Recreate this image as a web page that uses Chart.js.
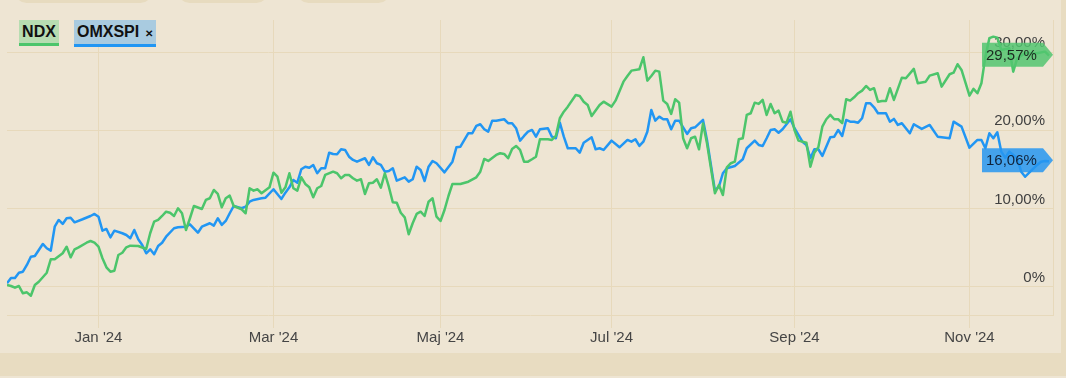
<!DOCTYPE html>
<html>
<head>
<meta charset="utf-8">
<script src="https://cdn.jsdelivr.net/npm/chart.js@4.4.1/dist/chart.umd.min.js"></script>
<style>
  html, body { margin: 0; padding: 0; }
  body { width: 1066px; height: 378px; background: #e8dcc1; position: relative; overflow: hidden;
         font-family: "Liberation Sans", Arial, sans-serif; }
  #panel { position: absolute; left: 0; top: 0; width: 1061px; height: 353px; background: #eee5d3; overflow: hidden; }
  #strip { position: absolute; left: 0; top: 376px; width: 1066px; height: 2px; background: #eee5d3; }
  #wrap { position: absolute; left: 0; top: 0; width: 1061px; height: 353px; }
  .pill { position: absolute; top: -20px; height: 23px; border-radius: 12px; background: #e7dbbf; }
  .tag { position: absolute; top: 20px; height: 23px; line-height: 24px; font-weight: bold; font-size: 16px; color: #111; z-index: 2; }
  #tagNdx { left: 19px; width: 40px; text-align: center; background: #b7ddb1; border-bottom: 3px solid #4cc56b; }
  #tagOmx { left: 74px; width: 79px; padding-left: 3px; height: 24px; background: #a9cbe0; border-bottom: 3px solid #2196f3; }
  #tagOmx span { font-size: 10px; margin-left: 6px; }
</style>
</head>
<body>
<div id="panel">
  <div class="pill" style="left:15px;width:137px"></div>
  <div class="pill" style="left:178px;width:90px"></div>
  <div class="pill" style="left:297px;width:93px"></div>
  <div id="wrap"><canvas id="chart"></canvas></div>
  <div class="tag" id="tagNdx">NDX</div>
  <div class="tag" id="tagOmx">OMXSPI<span>✕</span></div>
</div>
<div id="strip"></div>
<script>
// trading-day index since start (late Nov 2023), change in %
const monthTickDays = [23, 67, 109, 152, 198, 242];
const monthLabels = ["Jan '24", "Mar '24", "Maj '24", "Jul '24", "Sep '24", "Nov '24"];
const yTicks = [0, 10, 20, 30];

const ndxDays = [0,1,2,3,4,5,6,7,8,10,11,12,14,15,16,17,18,20,21,22,23,24,25,26,27,28,29,30,31,33,35,36,37,38,39,40,41,42,43,44,45,46,47,49,50,51,52,53,54,55,56,57,59,60,61,62,63,64,66,67,68,69,70,71,72,73,74,75,76,77,78,79,80,82,83,84,85,86,87,88,89,90,91,92,93,94,95,96,97,98,99,100,101,102,103,104,105,106,107,108,109,110,111,112,114,116,118,119,120,121,123,124,125,126,127,128,129,130,131,132,133,134,136,137,138,139,140,141,143,144,145,146,147,149,150,152,153,155,156,157,159,160,161,162,163,164,165,166,167,168,169,170,171,172,173,174,175,176,178,179,180,181,182,183,184,185,186,187,188,189,190,191,192,193,194,195,196,197,198,199,201,202,203,204,205,206,207,208,209,210,211,212,213,214,215,216,217,218,219,220,221,222,223,225,226,228,229,231,232,234,235,237,238,239,240,242,243,244,245,246,247,248,249,250,252,253,254,256,259,261,262];
const ndxValues = [0.22,0.09,-0.13,0.09,-0.84,-0.72,-1.15,0.22,0.64,1.79,3.51,3.51,4.28,5.12,3.76,4.79,5.04,5.63,5.85,5.63,5.12,3.64,2.48,1.92,2.05,4.06,4.35,5.04,5.25,5.21,4.83,6.84,8.32,8.54,9.05,9.6,9.47,9.05,10.04,9.4,7.26,8.76,10.33,9.95,11.1,11.32,12.38,11.87,10.16,11.32,11.65,10.33,9.91,9.4,12.6,12.29,12.47,11.96,12.72,14.59,14.08,12.03,12.72,14.52,12.6,12.29,14.0,13.15,12.72,11.44,12.6,12.89,14.3,14.72,14.52,13.88,14.3,14.3,13.88,13.57,13.75,11.87,13.24,13.31,13.75,12.67,14.52,12.8,10.8,10.75,9.47,8.88,6.71,8.12,9.31,9.6,9.05,10.88,11.32,8.96,8.41,9.82,11.61,13.15,13.15,13.44,14.0,14.72,16.35,16.09,16.86,17.08,16.99,16.44,17.63,18.01,17.5,16.0,16.0,16.31,16.64,18.87,18.87,18.78,19.29,21.56,22.4,23.04,24.54,24.41,23.68,23.26,21.85,23.26,23.68,23.04,23.81,26.24,26.97,27.65,27.83,29.36,26.37,26.97,27.65,27.52,23.81,23.39,22.11,23.99,23.55,19.0,17.72,19.0,19.2,17.59,20.9,18.36,11.96,13.02,11.74,15.28,15.8,16.0,18.87,19.0,21.98,22.2,23.55,23.39,23.9,21.98,23.39,22.2,22.53,21.12,20.99,22.4,20.06,18.69,18.43,15.36,17.15,17.84,20.48,21.43,21.98,21.43,21.43,20.92,23.99,23.81,24.24,24.76,25.09,25.69,25.18,25.4,23.68,23.77,23.77,25.4,23.9,26.75,26.68,27.87,26.04,26.24,27.01,27.32,25.6,27.19,27.39,28.47,27.74,24.45,25.31,24.76,26.04,29.44,31.8,32.0,31.87,30.3,30.51,27.52,29.23,29.87,29.87,30.08,29.57];

const omxDays = [0,1,2,3,4,5,6,7,8,9,10,11,12,13,14,15,16,17,19,21,22,23,24,25,26,27,29,30,31,32,33,34,35,36,37,38,39,40,42,43,45,46,48,49,51,52,53,54,55,56,57,59,60,61,62,64,65,67,69,70,71,72,73,74,75,76,77,78,79,80,81,82,83,84,85,86,87,88,90,91,92,93,94,95,96,97,98,100,101,102,103,104,105,106,107,108,110,112,113,114,116,117,118,119,120,121,122,123,125,126,127,128,129,130,131,132,133,134,136,137,138,139,140,141,143,144,145,146,147,148,149,150,152,154,156,157,158,159,160,161,162,163,164,165,166,167,168,169,170,171,172,173,175,176,178,179,180,181,183,185,186,188,189,190,191,192,193,194,195,197,198,200,201,202,203,204,205,207,208,209,210,211,212,213,214,215,216,217,218,219,221,222,223,224,225,227,228,230,232,234,236,237,238,240,242,244,245,246,247,248,249,250,251,252,254,255,256,259,260,261,262];
const omxValues = [0.44,1.11,1.11,1.79,1.92,2.78,3.84,3.93,4.7,5.47,4.92,4.61,7.68,8.54,8.03,8.76,8.83,8.24,8.63,9.05,9.31,8.96,7.17,7.39,6.32,7.17,6.84,6.62,6.2,7.26,6.07,5.34,4.28,4.79,4.15,5.21,5.63,6.4,7.48,7.6,7.68,7.99,6.91,7.68,8.12,7.81,8.76,7.9,8.41,9.4,10.33,10.04,10.24,10.88,11.1,11.32,11.39,12.47,11.23,12.03,12.72,13.66,13.31,15.03,15.36,15.23,15.58,14.52,15.16,15.16,17.15,16.99,16.95,17.59,17.5,16.64,16.22,16.0,16.44,15.58,16.56,15.8,15.58,14.72,14.81,15.16,13.57,14.0,13.44,13.75,15.36,14.94,13.53,15.36,16.09,15.8,14.64,16.0,17.84,17.92,19.64,19.64,20.57,20.79,20.15,19.84,21.25,21.25,21.43,20.92,20.92,20.28,18.69,19.29,19.84,20.06,19.2,20.15,20.28,19.2,19.0,20.99,19.2,17.72,17.72,17.15,18.43,18.78,19.12,17.59,17.72,17.5,18.69,17.84,18.78,18.56,18.87,18.01,18.56,19.84,22.62,21.25,21.76,21.43,21.43,20.15,21.25,21.25,20.4,19.55,20.28,20.4,21.34,18.78,12.29,12.8,14.52,15.16,15.45,16.31,17.72,18.69,18.14,18.01,19.0,20.06,20.15,19.71,20.15,21.43,20.28,18.56,18.14,16.44,17.59,17.59,16.73,19.12,19.2,20.06,19.29,21.34,21.12,21.12,20.99,21.56,23.48,23.48,22.96,22.2,22.2,21.12,21.47,20.7,20.92,19.64,20.79,20.19,20.7,19.2,19.07,19.0,21.12,20.48,17.79,18.78,18.78,17.72,19.64,19.0,19.76,17.28,16.51,17.28,16.44,14.72,14.08,15.58,16.0,16.09,16.06];

const FONT = '"Liberation Sans", Arial, sans-serif';
const gridColor = '#e7d9bb';

function fmtPct(v) {
  if (v === 0) return '0%';
  return v.toFixed(2).replace('.', ',') + '%';
}

const yLabels = {
  id: 'yLabels',
  beforeDatasetsDraw(chart) {
    const { ctx, chartArea, scales } = chart;
    ctx.save();
    ctx.font = '15px ' + FONT;
    ctx.fillStyle = '#404040';
    ctx.textAlign = 'right';
    ctx.textBaseline = 'alphabetic';
    yTicks.forEach(v => {
      ctx.fillText(fmtPct(v), chartArea.right - 8, scales.y.getPixelForValue(v) - 5);
    });
    ctx.restore();
  }
};

const endTags = {
  id: 'endTags',
  afterDatasetsDraw(chart) {
    const { ctx, chartArea } = chart;
    chart.data.datasets.forEach((ds, i) => {
      const meta = chart.getDatasetMeta(i);
      const pt = meta.data[meta.data.length - 1];
      const yy = pt.y - 1;
      const tip = chartArea.right, x0 = tip - 71, x1 = tip - 10, h = 12;
      ctx.save();
      ctx.fillStyle = ds.tagColor;
      ctx.beginPath();
      ctx.moveTo(x0, yy - h);
      ctx.lineTo(x1, yy - h);
      ctx.lineTo(tip, yy);
      ctx.lineTo(x1, yy + h);
      ctx.lineTo(x0, yy + h);
      ctx.closePath();
      ctx.fill();
      ctx.font = '15px ' + FONT;
      ctx.fillStyle = ds.tagText;
      ctx.textAlign = 'left';
      ctx.textBaseline = 'middle';
      ctx.fillText(fmtPct(ds.data[ds.data.length - 1].y), x0 + 4, yy + 1);
      ctx.restore();
    });
  }
};

const ctx = document.getElementById('chart').getContext('2d');
const chart = new Chart(ctx, {
  type: 'line',
  data: {
    datasets: [{
      label: 'NDX',
      data: ndxDays.map((d, k) => ({ x: d, y: ndxValues[k] })),
      borderColor: '#4cc56b',
      borderWidth: 2.5,
      tagColor: 'rgba(82,198,112,0.85)',
      tagText: '#1b2a1f',
      pointRadius: 0,
      tension: 0,
      borderJoinStyle: 'round'
    }, {
      label: 'OMXSPI',
      data: omxDays.map((d, k) => ({ x: d, y: omxValues[k] })),
      borderColor: '#2196f3',
      borderWidth: 2.5,
      tagColor: 'rgba(38,150,240,0.85)',
      tagText: '#10223a',
      pointRadius: 0,
      tension: 0,
      borderJoinStyle: 'round'
    }]
  },
  options: {
    responsive: true,
    maintainAspectRatio: false,
    animation: false,
    layout: { padding: { left: 7, right: 8, top: 20, bottom: 0 } },
    plugins: { legend: { display: false }, tooltip: { enabled: false } },
    scales: {
      x: {
        type: 'linear',
        min: 0,
        max: 263,
        afterBuildTicks: s => { s.ticks = monthTickDays.map(v => ({ value: v })); },
        afterFit: s => { s.height = 38; },
        ticks: {
          callback: v => monthLabels[monthTickDays.indexOf(v)],
          font: { size: 15, family: FONT },
          color: '#454545',
          padding: 1,
          maxRotation: 0,
          autoSkip: false
        },
        grid: { color: gridColor, tickLength: 13 },
        border: { color: gridColor }
      },
      y: {
        position: 'right',
        min: -3.62,
        max: 34.13,
        afterBuildTicks: s => { s.ticks = yTicks.map(v => ({ value: v })); },
        afterFit: s => { s.width = 0; },
        ticks: { display: false },
        grid: { color: gridColor, drawTicks: false },
        border: { color: gridColor }
      }
    }
  },
  plugins: [yLabels, endTags]
});
</script>
</body>
</html>
